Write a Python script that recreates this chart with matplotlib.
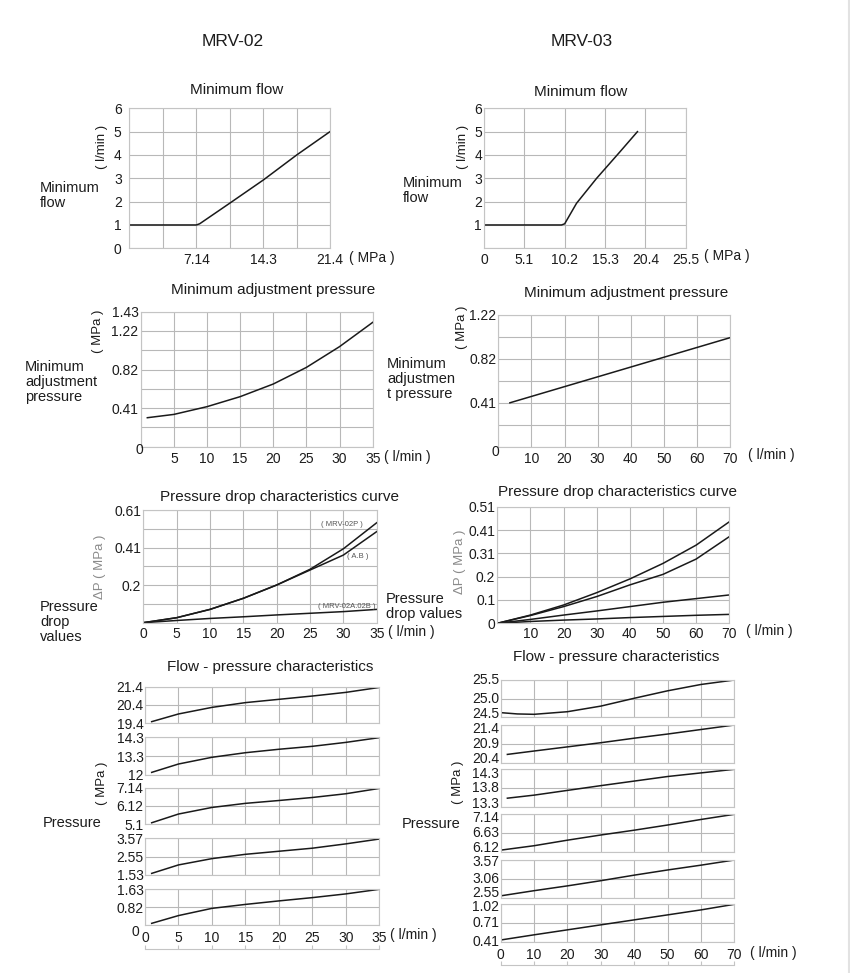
import numpy as np
import matplotlib
matplotlib.use('Agg')
import matplotlib.pyplot as plt
import matplotlib.transforms as mtransforms

plt.rcParams['font.family'] = ['Liberation Sans', 'DejaVu Sans']

# ---------------- data ----------------
headers = ['MRV-02', 'MRV-03']

# Minimum flow
mf02_x = [0, 7.14, 7.5, 10.7, 14.3, 17.85, 21.4]
mf02_y = [1, 1, 1.05, 1.93, 2.93, 4.0, 5.0]
mf02_xticklabels = ['', '', '7.14', '', '14.3', '', '21.4']
mf02_yticklabels = ['0', '1', '2', '3', '4', '5', '6']

mf03_x = [0, 9.8, 10.2, 11.7, 14.24, 17.2, 19.4]
mf03_y = [1, 1, 1.05, 1.93, 3.0, 4.14, 5.0]
mf03_xticklabels = ['0', '5.1', '10.2', '15.3', '20.4', '25.5']
mf03_yticklabels = ['', '1', '2', '3', '4', '5', '6']

# Minimum adjustment pressure
map02_x = [1, 5, 10, 15, 20, 25, 30, 35]
map02_y = [0.307, 0.342, 0.424, 0.53, 0.664, 0.84, 1.06, 1.317]
map02_xticklabels = ['', '5', '10', '15', '20', '25', '30', '35']
map02_yticklabels = ['', '', '0.41', '', '0.82', '', '1.22', '1.43']

map03_x = [3.5, 70]
map03_y = [0.41, 1.018]
map03_xticklabels = ['', '10', '20', '30', '40', '50', '60', '70']
map03_yticklabels = ['', '', '0.41', '', '0.82', '', '1.22']

# Pressure drop
pd02_x = [0, 5, 10, 15, 20, 25, 30, 35]
pd02_p = [0, 0.027, 0.072, 0.132, 0.204, 0.289, 0.40, 0.541]
pd02_ab = [0, 0.027, 0.072, 0.132, 0.204, 0.285, 0.366, 0.493]
pd02_ab2 = [0, 0.012, 0.023, 0.032, 0.042, 0.051, 0.060, 0.072]
pd02_xticklabels = ['0', '5', '10', '15', '20', '25', '30', '35']
pd02_yticklabels = ['', '', '0.2', '', '0.41', '', '0.61']
pd02_tags = ['( MRV-02P )', '( A.B )', '( MRV-02A.02B )']

pd03_x = [0, 10, 20, 30, 40, 50, 60, 70]
pd03_a = [0, 0.036, 0.080, 0.134, 0.194, 0.262, 0.342, 0.444]
pd03_b = [0, 0.034, 0.073, 0.117, 0.168, 0.214, 0.281, 0.379]
pd03_c = [0, 0.017, 0.036, 0.054, 0.073, 0.092, 0.108, 0.124]
pd03_d = [0, 0.008, 0.014, 0.019, 0.025, 0.030, 0.035, 0.039]
pd03_xticklabels = ['', '10', '20', '30', '40', '50', '60', '70']
pd03_yticklabels = ['0', '0.1', '0.2', '0.31', '0.41', '0.51']

# Flow - pressure characteristics, MRV-02
fp02_x = [1, 5, 10, 15, 20, 25, 30, 35]
fp02_series = [
    [19.49, 19.91, 20.27, 20.53, 20.71, 20.89, 21.09, 21.36],
    [12.16, 12.67, 13.08, 13.36, 13.57, 13.75, 13.99, 14.28],
    [5.17, 5.66, 6.03, 6.26, 6.42, 6.59, 6.80, 7.10],
    [1.62, 2.09, 2.44, 2.68, 2.85, 3.02, 3.26, 3.53],
    [0.076, 0.43, 0.76, 0.94, 1.10, 1.25, 1.42, 1.63],
]
fp02_ranges = [(19.4, 21.4), (12, 14.3), (5.1, 7.14), (1.53, 3.57), (0, 1.63)]
fp02_yticklabels = [['19.4', '20.4', '21.4'], ['12', '13.3', '14.3'],
                    ['5.1', '6.12', '7.14'], ['1.53', '2.55', '3.57'],
                    ['', '0.82', '1.63']]
fp02_xticklabels = ['0', '5', '10', '15', '20', '25', '30', '35']

# Flow - pressure characteristics, MRV-03
fp03_xs = [
    [0, 5, 10, 20, 30, 40, 50, 60, 70],
    [2, 10, 20, 30, 40, 50, 60, 70],
    [2, 10, 30, 50, 70],
    [0, 10, 20, 30, 40, 50, 60, 70],
    [0, 10, 20, 30, 40, 50, 60, 70],
    [0, 10, 20, 30, 40, 50, 60, 70],
]
fp03_series = [
    [24.625, 24.59, 24.58, 24.65, 24.80, 25.01, 25.21, 25.38, 25.5],
    [20.62, 20.71, 20.82, 20.93, 21.05, 21.16, 21.28, 21.4],
    [13.54, 13.62, 13.87, 14.11, 14.30],
    [6.17, 6.29, 6.44, 6.58, 6.71, 6.85, 7.0, 7.14],
    [2.60, 2.74, 2.87, 3.01, 3.16, 3.30, 3.43, 3.57],
    [0.447, 0.53, 0.61, 0.69, 0.77, 0.85, 0.93, 1.02],
]
fp03_ranges = [(24.5, 25.5), (20.4, 21.4), (13.3, 14.3), (6.12, 7.14), (2.55, 3.57), (0.41, 1.02)]
fp03_yticklabels = [['24.5', '25.0', '25.5'], ['20.4', '20.9', '21.4'],
                    ['13.3', '13.8', '14.3'], ['6.12', '6.63', '7.14'],
                    ['2.55', '3.06', '3.57'], ['0.41', '0.71', '1.02']]
fp03_xticklabels = ['0', '10', '20', '30', '40', '50', '60', '70']

# ---------------- drawing ----------------
W, H = 850, 973
fig = plt.figure(figsize=(W / 100, H / 100), dpi=100)

LINE = '#1a1a1a'
GRID = '#b8b8b8'
SPINE = '#c4c4c4'
TXT = '#1c1c1c'
LW = 1.1


def box(l, t, r, b):
    return [l / W, 1 - b / H, (r - l) / W, (b - t) / H]


def ftext(x, y, s, **kw):
    kw.setdefault('color', TXT)
    kw.setdefault('fontsize', 10)
    return fig.text(x / W, 1 - y / H, s, **kw)


def panel(l, t, r, b, xlim, ylim, xgrid, ygrid, xlabels, ylabels,
          ypad=1.5, xpad=3.5, fs=10):
    ax = fig.add_axes(box(l, t, r, b))
    ax.set_xlim(*xlim)
    ax.set_ylim(*ylim)
    ax.set_xticks(xgrid)
    ax.set_yticks(ygrid)
    ax.set_xticklabels(xlabels)
    ax.set_yticklabels(ylabels)
    ax.set_axisbelow(True)
    ax.grid(True, color=GRID, lw=0.8)
    ax.tick_params(length=0, labelsize=fs, labelcolor=TXT)
    ax.tick_params(axis='y', pad=ypad)
    ax.tick_params(axis='x', pad=xpad)
    for s in ax.spines.values():
        s.set_color(SPINE)
        s.set_linewidth(0.8)
    return ax


def base_axis(l, r, y, xlim, xgrid):
    ax = fig.add_axes(box(l, y - 1, r, y))
    ax.set_xlim(*xlim)
    ax.set_xticks(xgrid)
    ax.set_xticklabels([])
    ax.set_yticks([])
    for k in ('top', 'left', 'right'):
        ax.spines[k].set_visible(False)
    ax.spines['bottom'].set_color(SPINE)
    ax.spines['bottom'].set_linewidth(0.8)
    ax.tick_params(axis='x', direction='in', length=3, color=SPINE, width=0.8)
    ax.patch.set_alpha(0)
    return ax


# headers
ftext(233, 41, headers[0], fontsize=12.5, ha='center', va='center')
ftext(582, 41, headers[1], fontsize=12.5, ha='center', va='center')

# ---- Panel 1: minimum flow MRV-02
ax = panel(129.3, 108.3, 330, 248.3, (0, 21.4), (0, 6), np.linspace(0, 21.4, 7),
           range(7), mf02_xticklabels, mf02_yticklabels, ypad=5.5)
ax.plot(mf02_x, mf02_y, color=LINE, lw=LW)
ftext(236.7, 90, 'Minimum flow', fontsize=11, ha='center', va='center')
ftext(349, 258, '( MPa )', ha='left', va='center')
ftext(101.7, 147, '( l/min )', fontsize=9.5, rotation=90, ha='center', va='center')
ftext(40, 181, 'Minimum\nflow', fontsize=10.5, ha='left', va='top', linespacing=1.1)

# ---- Panel 2: minimum flow MRV-03
ax = panel(484, 108.3, 685.7, 248.3, (0, 25.5), (0, 6), np.linspace(0, 25.5, 6),
           range(7), mf03_xticklabels, mf03_yticklabels)
ax.plot(mf03_x, mf03_y, color=LINE, lw=LW)
ftext(581, 92, 'Minimum flow', fontsize=11, ha='center', va='center')
ftext(704, 256, '( MPa )', ha='left', va='center')
ftext(463.3, 147, '( l/min )', fontsize=9.5, rotation=90, ha='center', va='center')
ftext(403, 176, 'Minimum\nflow', fontsize=10.5, ha='left', va='top', linespacing=1.1)

# ---- Panel 3: minimum adjustment pressure MRV-02
ax = panel(140.7, 311.7, 372.7, 446.7, (0, 35), (0, 1.43), np.arange(0, 36, 5),
           np.linspace(0, 1.43, 8), map02_xticklabels, map02_yticklabels)
ax.plot(map02_x, map02_y, color=LINE, lw=LW)
ftext(273, 290, 'Minimum adjustment pressure', fontsize=11, ha='center', va='center')
ftext(139.5, 450, '0', ha='center', va='center')
ftext(384, 457, '( l/min )', ha='left', va='center')
ftext(98.3, 331, '( MPa )', fontsize=9.5, rotation=90, ha='center', va='center')
ftext(25, 360, 'Minimum\nadjustment\npressure', fontsize=10.5, ha='left', va='top',
      linespacing=1.1)

# ---- Panel 4: minimum adjustment pressure MRV-03
ax = panel(498.3, 315, 730, 446.7, (0, 70), (0, 1.23), np.arange(0, 71, 10),
           np.linspace(0, 1.23, 7), map03_xticklabels, map03_yticklabels)
ax.plot(map03_x, map03_y, color=LINE, lw=LW)
ftext(625.7, 293, 'Minimum adjustment pressure', fontsize=11, ha='center', va='center')
ftext(495, 452, '0', ha='center', va='center')
ftext(747.7, 455, '( l/min )', ha='left', va='center')
ftext(461.7, 327, '( MPa )', fontsize=9.5, rotation=90, ha='center', va='center')
ftext(387, 357, 'Minimum\nadjustmen\nt pressure', fontsize=10.5, ha='left', va='top',
      linespacing=1.1)

# ---- Panel 5: pressure drop MRV-02
ax = panel(143.3, 510, 376.7, 622.7, (0, 35), (0, 0.61), np.arange(0, 36, 5),
           np.linspace(0, 0.61, 7), pd02_xticklabels, pd02_yticklabels, xpad=3)
ax.plot(pd02_x, pd02_p, color=LINE, lw=LW)
ax.plot(pd02_x, pd02_ab, color=LINE, lw=LW)
ax.plot(pd02_x, pd02_ab2, color=LINE, lw=LW)
ftext(363, 524, pd02_tags[0], fontsize=5.5, color='#555555', ha='right', va='center')
ftext(368, 557, pd02_tags[1], fontsize=5.5, color='#555555', ha='right', va='center')
ftext(375, 606, pd02_tags[2], fontsize=5.5, color='#555555', ha='right', va='center')
ftext(279, 497, 'Pressure drop characteristics curve', fontsize=11, ha='center', va='center')
ftext(388, 632, '( l/min )', ha='left', va='center')
ftext(100, 567, '\u0394P ( MPa )', fontsize=9.5, color='#8a8a8a', rotation=90,
      ha='center', va='center')
ftext(40, 600, 'Pressure\ndrop\nvalues', fontsize=10.5, ha='left', va='top', linespacing=1.1)

# ---- Panel 6: pressure drop MRV-03
ax = panel(497.3, 506.7, 729.3, 623.3, (0, 70), (0, 0.51), np.arange(0, 71, 10),
           np.linspace(0, 0.51, 6), pd03_xticklabels, pd03_yticklabels, xpad=3)
for ser in (pd03_a, pd03_b, pd03_c, pd03_d):
    ax.plot(pd03_x, ser, color=LINE, lw=LW)
ftext(617, 492, 'Pressure drop characteristics curve', fontsize=11, ha='center', va='center')
ftext(746, 631, '( l/min )', ha='left', va='center')
ftext(460, 562, '\u0394P ( MPa )', fontsize=9.5, color='#8a8a8a', rotation=90,
      ha='center', va='center')
ftext(386, 592, 'Pressure\ndrop values', fontsize=10.5, ha='left', va='top', linespacing=1.1)

# ---- Panel 7: flow-pressure MRV-02 (stacked)
fp02_boxes = [(686.7, 723.3), (737.3, 775), (787.7, 824), (838.3, 875), (889.3, 925)]
for i, (t, b) in enumerate(fp02_boxes):
    lo, hi = fp02_ranges[i]
    last = i == len(fp02_boxes) - 1
    ax = panel(145, t, 379.3, b, (0, 35), (lo, hi), np.arange(0, 36, 5),
               [lo, (lo + hi) / 2, hi],
               fp02_xticklabels if last else [''] * 8, fp02_yticklabels[i],
               ypad=1, xpad=4)
    ax.plot(fp02_x, fp02_series[i], color=LINE, lw=LW)
ftext(135, 932, '0', ha='center', va='center')
base_axis(145, 379.3, 949.3, (0, 35), np.arange(0, 36, 5))
ftext(270, 667, 'Flow - pressure characteristics', fontsize=11, ha='center', va='center')
ftext(390, 935, '( l/min )', ha='left', va='center')
ftext(101.7, 783, '( MPa )', fontsize=9.5, rotation=90, ha='center', va='center')
ftext(42.7, 823, 'Pressure', fontsize=10.5, ha='left', va='center')

# ---- Panel 8: flow-pressure MRV-03 (stacked)
fp03_boxes = [(680, 717.3), (725, 762.7), (769.3, 807.3), (814.3, 852),
              (860, 897.7), (904.3, 942.3)]
# vertical nudges (px, positive = down) for bottom / middle / top labels
fp03_nudges = [(-3.5, 0, 0), (-4, 0, 4), (-3.5, 0, 4.5), (-4, 0, 4),
               (-5, 0, 2), (0, 0, 2.5)]
for i, (t, b) in enumerate(fp03_boxes):
    lo, hi = fp03_ranges[i]
    last = i == len(fp03_boxes) - 1
    ticks = [lo, (lo + hi) / 2, hi]
    ax = panel(500.7, t, 734.3, b, (0, 70), (lo, hi), np.arange(0, 71, 10),
               ticks, fp03_xticklabels if last else [''] * 8, [''] * 3,
               ypad=1.5, xpad=4)
    base_tr = mtransforms.blended_transform_factory(ax.transAxes, ax.transData)
    for val, lab, dy in zip(ticks, fp03_yticklabels[i], fp03_nudges[i]):
        tr = mtransforms.offset_copy(base_tr, fig=fig, x=-1.5, y=-dy, units='dots')
        ax.text(0, val, lab, transform=tr, ha='right', va='center',
                fontsize=10, color=TXT)
    ax.plot(fp03_xs[i], fp03_series[i], color=LINE, lw=LW)
base_axis(500.7, 734.3, 965, (0, 70), np.arange(0, 71, 10))
ftext(616, 657, 'Flow - pressure characteristics', fontsize=11, ha='center', va='center')
ftext(750, 953, '( l/min )', ha='left', va='center')
ftext(458, 782, '( MPa )', fontsize=9.5, rotation=90, ha='center', va='center')
ftext(401.7, 824, 'Pressure', fontsize=10.5, ha='left', va='center')

# faint frame edge on the right
fig.add_artist(plt.Line2D([848.5 / W, 848.5 / W], [0, 1], color='#e2e2e2', lw=1.5))

fig.savefig('out.png', dpi=100)
